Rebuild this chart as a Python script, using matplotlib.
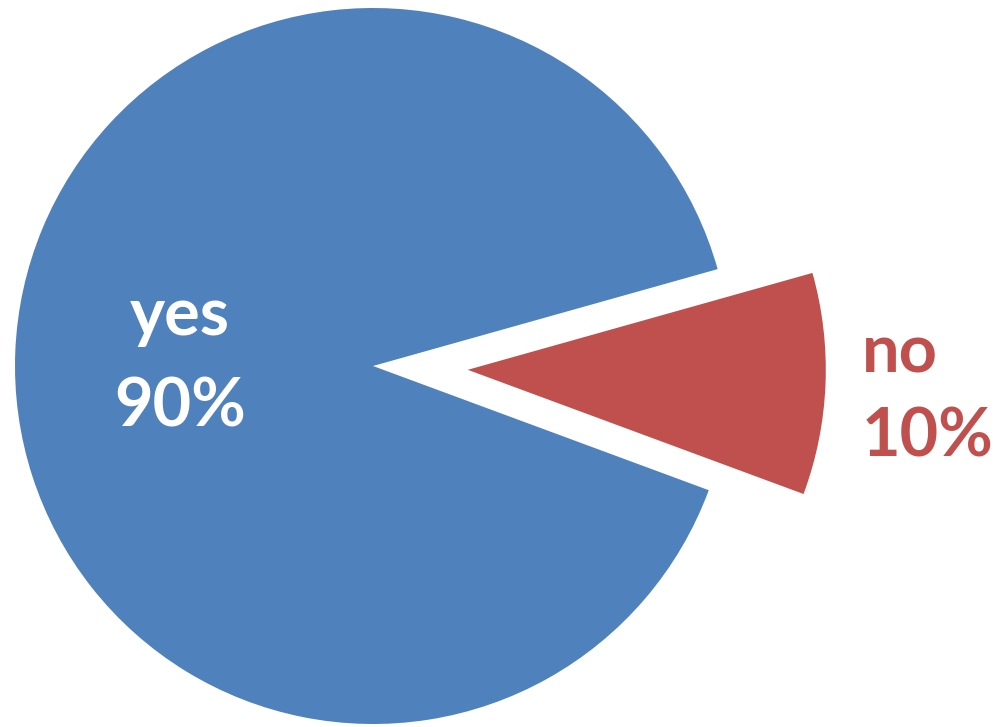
import matplotlib.pyplot as plt

labels = ['no', 'yes']
values = [10, 90]
colors = ['#C0504D', '#4F81BD']
explode = [0.265, 0]

fig = plt.figure(figsize=(9.94, 7.27), dpi=100)
ax = fig.add_axes([0, 0, 1, 1])

ax.pie(values, colors=colors, explode=explode, startangle=-20.3,
       counterclock=True, radius=1.0)

# pie center at pixel (373, 366), radius 358 px
cx, cy, r_px = 373.0, 366.0, 358.0
ax.set_xlim(-cx / r_px, (994 - cx) / r_px)
ax.set_ylim(-(727 - cy) / r_px, cy / r_px)
ax.set_aspect('equal')
ax.axis('off')

font = dict(family=['Lato', 'DejaVu Sans'], fontweight='bold', fontsize=48,
            va='baseline')
# yes label (centered, white)
ax.text(-0.539, 0.087, labels[1], color='white', ha='center', **font)
ax.text(-0.539, -0.170, f'{values[1]}%', color='white', ha='center', **font)
# no label (left aligned, red)
ax.text(1.365, -0.017, labels[0], color=colors[0], ha='left', **font)
ax.text(1.365, -0.254, f'{values[0]}%', color=colors[0], ha='left', **font)

fig.savefig('out.png', dpi=100)
